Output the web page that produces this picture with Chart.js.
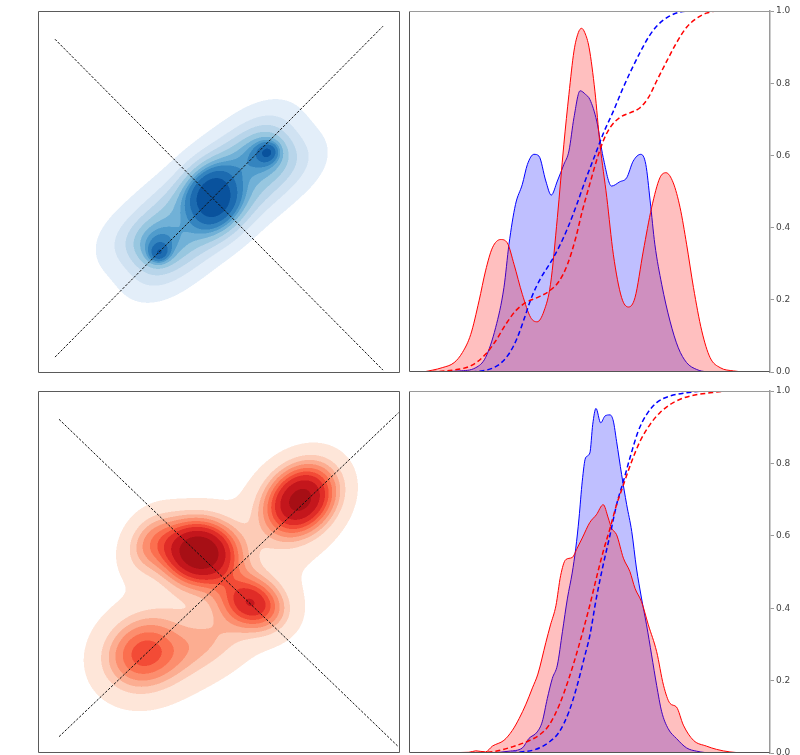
<!DOCTYPE html>
<html>
<head>
<meta charset="utf-8">
<script src="https://cdn.jsdelivr.net/npm/chart.js@4.4.1/dist/chart.umd.min.js"></script>
<style>
  html, body { margin: 0; padding: 0; background: #fff; }
  body { width: 800px; height: 755px; position: relative; overflow: hidden; }
  canvas { position: absolute; }
</style>
</head>
<body>
<canvas id="kdeTop" width="362" height="362" style="left:38px;top:11px"></canvas>
<canvas id="distTop" width="391" height="380" style="left:409px;top:0px"></canvas>
<canvas id="kdeBot" width="362" height="362" style="left:38px;top:391px"></canvas>
<canvas id="distBot" width="391" height="381" style="left:409px;top:380px"></canvas>
<script>
// ---------- bivariate density components (data units, 0..100 square) ----------
// blue field: two parallel rows along the diagonal, a central peak and two lobes
const blueCx     = [26.5, 35.5, 44.5, 53.5, 62.5, 33.5, 42.5, 51.5, 60.5, 69.5, 48.5, 33, 62.5, 33.5, 63.5];
const blueCy     = [37.2, 44.7, 51.7, 59.2, 66.2, 28.8, 36.3, 43.3, 50.8, 57.8, 48.5, 35.5, 60.5, 33, 61];
const blueMajor  = [7.5, 7, 7, 7, 7.5, 7.5, 7, 7, 7, 7.5, 6.2, 5, 5, 2, 2];
const blueMinor  = [5.3, 5.3, 5.3, 5.3, 5.3, 5.3, 5.3, 5.3, 5.3, 5.3, 5.2, 4, 4, 1.8, 1.8];
const blueAngle  = [35, 40, 40, 40, 35, 35, 40, 40, 40, 35, 75, 30, 30, 30, 30];
const blueWeight = [0.07, 0.07, 0.07, 0.07, 0.07, 0.07, 0.07, 0.07, 0.07, 0.07, 0.17, 0.045, 0.045, 0.008, 0.008];
// red field: four clusters plus a diffuse background
const redCx     = [44.5, 72.5, 59, 29, 50, 31, 46];
const redCy     = [55.5, 70, 41.5, 27.5, 44, 58, 30];
const redMajor  = [6.5, 7, 6, 7.5, 22, 6, 9];
const redMinor  = [5.5, 5.5, 4.5, 6.5, 13, 4.5, 5];
const redAngle  = [-10, 45, -25, 30, 45, 60, 30];
const redWeight = [0.25, 0.23, 0.1, 0.14, 0.18, 0.04, 0.04];

// iso-proportion levels and fill colours of the filled contours
const isoProps = [0.05, 0.1556, 0.2611, 0.3667, 0.4722, 0.5778, 0.6833, 0.7889, 0.8944, 1.0];
const bluesFill = ['#e3eef9', '#d0e2f2', '#b8d5ea', '#98c7e0', '#71b1d7', '#509ccc', '#3484bf', '#1c6bb0', '#09529d'];
const redsFill  = ['#fee6d9', '#fdcbb6', '#fcad91', '#fc8e6e', '#fb6f4f', '#f34b36', '#e02c27', '#c4161c', '#a70f15'];

// dashed diagonals [x0, y0, x1, y1]
const topDiagA = [4.7, 4.4, 95.3, 95.8];
const topDiagB = [4.7, 92.2, 95.3, 0.8];
const botDiagA = [5.8, 4.5, 99.6, 94.0];
const botDiagB = [5.8, 92.2, 99.6, 1.7];

// ---------- top-right: densities and cumulative curves ----------
const topBlueDensX = [4, 13.9, 18.5, 21.2, 24.0, 26.3, 27.7, 29.5, 31.4, 32.8, 34.6, 36.0, 37.9, 39.4, 41.1, 42.9, 44.3, 45.7, 47.4, 48.9, 50.1, 52.0, 53.8, 56.1, 58.4, 60.3, 62.1, 64.2, 65.6, 66.8, 68.1, 70.0, 72.3, 74.6, 76.9, 79.7, 82.4, 96];
const topBlueDensY = [0, 0.003, 0.012, 0.04, 0.123, 0.234, 0.354, 0.464, 0.52, 0.575, 0.603, 0.598, 0.529, 0.49, 0.529, 0.575, 0.612, 0.705, 0.779, 0.769, 0.755, 0.695, 0.594, 0.515, 0.527, 0.538, 0.584, 0.603, 0.575, 0.474, 0.354, 0.243, 0.141, 0.067, 0.026, 0.007, 0.001, 0];
const topRedDensX = [4, 9.2, 12.5, 14.8, 17.1, 19.4, 21.2, 23.1, 25.4, 27.2, 29.1, 31.4, 33.7, 35.5, 37.4, 39.2, 41.1, 42.9, 44.3, 45.7, 46.9, 47.8, 48.7, 49.9, 51.5, 52.9, 54.8, 56.6, 58.9, 60.8, 62.6, 64.9, 67.2, 69.5, 71.2, 73.2, 75.1, 76.9, 78.8, 81.1, 83.4, 86.2, 89.9, 93.6, 96];
const topRedDensY = [0, 0.012, 0.026, 0.054, 0.104, 0.197, 0.28, 0.344, 0.367, 0.358, 0.298, 0.215, 0.151, 0.139, 0.169, 0.243, 0.428, 0.631, 0.769, 0.889, 0.94, 0.952, 0.94, 0.898, 0.778, 0.631, 0.483, 0.326, 0.206, 0.18, 0.206, 0.335, 0.455, 0.538, 0.552, 0.524, 0.455, 0.354, 0.234, 0.114, 0.04, 0.012, 0.003, 0, 0];
const topBlueCdfX = [4, 14, 20, 23, 25.5, 28, 30, 32, 34, 36.5, 39, 41.5, 44, 46.5, 49, 51.5, 54, 56.5, 59, 61.5, 64, 66.5, 69, 72, 75, 78, 96];
const topBlueCdfY = [0, 0, 0.003, 0.01, 0.025, 0.055, 0.095, 0.15, 0.208, 0.26, 0.3, 0.345, 0.4, 0.465, 0.535, 0.6, 0.665, 0.72, 0.78, 0.835, 0.885, 0.93, 0.962, 0.985, 0.997, 1, 1];
const topRedCdfX = [4, 12.0, 17.5, 21.2, 24.0, 26.8, 29.5, 32.3, 35.5, 38.8, 41.6, 43.9, 46.2, 48.0, 50.0, 51.9, 53.8, 55.7, 58.4, 61.2, 64.0, 66.3, 68.6, 71.4, 74.1, 76.9, 79.7, 82.4, 85.2, 96];
const topRedCdfY = [0, 0.005, 0.019, 0.049, 0.086, 0.132, 0.169, 0.192, 0.206, 0.224, 0.252, 0.298, 0.372, 0.446, 0.518, 0.584, 0.64, 0.677, 0.705, 0.718, 0.732, 0.76, 0.806, 0.861, 0.912, 0.955, 0.98, 0.994, 1, 1];

// ---------- bottom-right: densities and cumulative curves ----------
const botBlueDensX = [4, 13.9, 23.1, 27.7, 31.4, 33.2, 35.5, 36.9, 38.3, 39.7, 41.1, 42.5, 43.9, 45.2, 46.2, 47.1, 48.0, 48.9, 50.1, 50.9, 51.8, 53.1, 54.3, 55.7, 56.6, 57.5, 58.9, 60.3, 61.7, 63.0, 64.4, 65.8, 67.2, 68.6, 70.0, 71.8, 74.1, 76.9, 79.7, 84.3, 96];
const botBlueDensY = [0, 0, 0.001, 0.005, 0.014, 0.04, 0.058, 0.086, 0.15, 0.206, 0.243, 0.335, 0.428, 0.497, 0.566, 0.649, 0.751, 0.815, 0.829, 0.908, 0.952, 0.912, 0.931, 0.934, 0.917, 0.861, 0.769, 0.686, 0.612, 0.511, 0.428, 0.354, 0.271, 0.187, 0.114, 0.067, 0.04, 0.014, 0.005, 0, 0];
const botRedDensX = [4, 16.6, 18.5, 21.2, 23.1, 26.3, 28.6, 30.5, 32.4, 34.2, 35.7, 37.9, 39.2, 40.7, 42.0, 43.4, 45.2, 46.6, 48.0, 50.1, 51.9, 53.8, 55.2, 56.1, 57.5, 59.4, 61.2, 62.6, 64.4, 66.3, 68.6, 70.5, 72.3, 74.1, 76.0, 78.8, 82.4, 85.2, 88.9, 93.6, 96];
const botRedDensY = [0, 0.002, 0.006, 0.003, 0.019, 0.035, 0.062, 0.095, 0.135, 0.18, 0.218, 0.305, 0.354, 0.407, 0.49, 0.534, 0.54, 0.566, 0.594, 0.637, 0.658, 0.686, 0.649, 0.621, 0.603, 0.538, 0.501, 0.455, 0.418, 0.354, 0.28, 0.187, 0.137, 0.127, 0.077, 0.035, 0.019, 0.01, 0.003, 0, 0];
const botBlueCdfX = [4, 13.9, 23.1, 30.5, 35.1, 38.8, 41.6, 44.3, 46.6, 48.5, 50.1, 51.9, 53.8, 55.7, 57.5, 59.4, 61.2, 63.5, 65.8, 68.6, 72.3, 76.9, 82.4, 96];
const botBlueCdfY = [0, 0, 0, 0.003, 0.01, 0.03, 0.058, 0.114, 0.187, 0.261, 0.325, 0.428, 0.52, 0.603, 0.686, 0.751, 0.815, 0.889, 0.935, 0.968, 0.986, 0.995, 1, 1];
const botRedCdfX = [4, 18.5, 24.0, 28.6, 32.3, 36.0, 38.8, 41.6, 44.3, 47.1, 50.1, 51.9, 53.8, 55.7, 57.5, 59.4, 61.7, 64.0, 66.8, 69.5, 73.2, 77.8, 83.4, 88.9, 96];
const botRedCdfY = [0, 0.001, 0.005, 0.017, 0.03, 0.049, 0.077, 0.132, 0.206, 0.298, 0.409, 0.483, 0.557, 0.621, 0.686, 0.741, 0.806, 0.861, 0.908, 0.94, 0.968, 0.986, 0.995, 1, 1];

// tick values on the right-hand axis
const cdfTicks = [0.0, 0.2, 0.4, 0.6, 0.8, 1.0];

// ---------- helpers ----------
const pts = (xs, ys) => xs.map((x, i) => ({ x, y: ys[i] }));
const seg = s => [{ x: s[0], y: s[1] }, { x: s[2], y: s[3] }];
const hexRgb = h => [1, 3, 5].map(i => parseInt(h.slice(i, i + 2), 16));

// filled-contour renderer: evaluates the mixture at every (super-sampled) pixel
// through the chart scales, finds the iso-proportion thresholds and paints bands
const kdeFill = {
  id: 'kdeFill',
  beforeDatasetsDraw(chart, args, o) {
    const { ctx, chartArea: a, scales } = chart;
    const sx = scales.x, sy = scales.y;
    const ss = 2;
    const w = Math.round(a.right - a.left), h = Math.round(a.bottom - a.top);
    const W = w * ss, H = h * ss;
    const comps = o.cx.map((cx, k) => {
      const t = o.angle[k] * Math.PI / 180;
      return { cx, cy: o.cy[k], c: Math.cos(t), s: Math.sin(t),
               ia: 1 / (o.major[k] * o.major[k]), ib: 1 / (o.minor[k] * o.minor[k]),
               w: o.weight[k] / (2 * Math.PI * o.major[k] * o.minor[k]) };
    });
    const vx = new Float64Array(W), vy = new Float64Array(H);
    for (let i = 0; i < W; i++) vx[i] = sx.getValueForPixel(a.left + (i + 0.5) / ss);
    for (let j = 0; j < H; j++) vy[j] = sy.getValueForPixel(a.top + (j + 0.5) / ss);
    const dens = new Float64Array(W * H);
    let total = 0;
    for (let j = 0; j < H; j++) {
      for (let i = 0; i < W; i++) {
        let d = 0;
        for (const g of comps) {
          const dx = vx[i] - g.cx, dy = vy[j] - g.cy;
          const u = dx * g.c + dy * g.s, v = -dx * g.s + dy * g.c;
          d += g.w * Math.exp(-0.5 * (u * u * g.ia + v * v * g.ib));
        }
        dens[j * W + i] = d;
        total += d;
      }
    }
    const sorted = Float64Array.from(dens).sort();
    const N = sorted.length;
    const cum = new Float64Array(N);
    let c = 0;
    for (let i = 0; i < N; i++) { c += sorted[N - 1 - i]; cum[i] = c / total; }
    const levels = o.props.map(p => {
      const t = 1 - p;
      let lo = 0, hi = N;
      while (lo < hi) { const m = (lo + hi) >> 1; if (cum[m] < t) lo = m + 1; else hi = m; }
      return sorted[N - 1 - Math.min(lo, N - 1)];
    });
    const cols = o.colors.map(hexRgb);
    const nb = cols.length;
    const img = ctx.createImageData(w, h);
    for (let y = 0; y < h; y++) {
      for (let x = 0; x < w; x++) {
        let r = 0, gg = 0, b = 0;
        for (let q = 0; q < ss; q++) for (let p = 0; p < ss; p++) {
          const d = dens[(y * ss + q) * W + (x * ss + p)];
          if (d < levels[0]) { r += 255; gg += 255; b += 255; continue; }
          let k = 0;
          while (k + 1 < levels.length && d >= levels[k + 1]) k++;
          if (k > nb - 1) k = nb - 1;
          r += cols[k][0]; gg += cols[k][1]; b += cols[k][2];
        }
        const n = ss * ss, idx = (y * w + x) * 4;
        img.data[idx] = r / n; img.data[idx + 1] = gg / n; img.data[idx + 2] = b / n; img.data[idx + 3] = 255;
      }
    }
    const off = document.createElement('canvas');
    off.width = w; off.height = h;
    off.getContext('2d').putImageData(img, 0, 0);
    ctx.drawImage(off, a.left, a.top);
  }
};

// frame around a panel
const frame = {
  id: 'frame',
  afterDraw(chart, args, o) {
    const { ctx, chartArea: a } = chart;
    ctx.save();
    ctx.lineWidth = 1;
    const L = a.left + 0.5, R = a.right - 0.5, T = a.top + 0.5, B = a.bottom - 0.5;
    const side = (x0, y0, x1, y1, col) => { ctx.strokeStyle = col; ctx.beginPath(); ctx.moveTo(x0, y0); ctx.lineTo(x1, y1); ctx.stroke(); };
    side(L, T, L, B, o.left);
    side(L, B, R, B, o.bottom);
    side(L, T, R, T, o.top);
    if (o.right) side(R, T, R, B, o.right);
    ctx.restore();
  }
};

function kdeChart(id, diagA, diagB, comp, colors) {
  const diag = d => ({ data: seg(d), showLine: true, borderColor: '#111111', borderWidth: 1,
                       borderDash: [2.5, 1.5], pointRadius: 0, fill: false });
  return new Chart(document.getElementById(id), {
    type: 'scatter',
    data: { datasets: [diag(diagA), diag(diagB)] },
    options: {
      responsive: false, animation: false, devicePixelRatio: 1,
      layout: { padding: 0 },
      plugins: { legend: { display: false }, tooltip: { enabled: false },
                 kdeFill: { ...comp, props: isoProps, colors },
                 frame: { left: '#5a5a5a', right: '#5a5a5a', top: '#5a5a5a', bottom: '#5a5a5a' } },
      scales: { x: { type: 'linear', min: 0, max: 100, display: false },
                y: { type: 'linear', min: 0, max: 100, display: false } }
    },
    plugins: [kdeFill, frame]
  });
}

function distChart(id, sets) {
  const dens = (x, y, col, fillCol) => ({ data: pts(x, y), borderColor: col, backgroundColor: fillCol,
    borderWidth: 1, fill: 'origin', pointRadius: 0, cubicInterpolationMode: 'monotone' });
  const cdf = (x, y, col) => ({ data: pts(x, y), borderColor: col, borderWidth: 1.5, borderDash: [5, 3],
    fill: false, pointRadius: 0, cubicInterpolationMode: 'monotone' });
  return new Chart(document.getElementById(id), {
    type: 'line',
    data: { datasets: [
      // first listed is painted last
      cdf(sets.redCdfX, sets.redCdfY, '#ff0000'),
      cdf(sets.blueCdfX, sets.blueCdfY, '#0000ff'),
      dens(sets.redX, sets.redY, '#ff0000', 'rgba(255,0,0,0.25)'),
      dens(sets.blueX, sets.blueY, '#0000ff', 'rgba(0,0,255,0.25)')
    ] },
    options: {
      responsive: false, animation: false, devicePixelRatio: 1,
      layout: { padding: { top: 11, bottom: 8, left: 0, right: 0 } },
      plugins: { legend: { display: false }, tooltip: { enabled: false },
                 frame: { left: '#555555', bottom: '#555555', top: '#9a9a9a' } },
      scales: {
        x: { type: 'linear', min: 0, max: 100, display: false },
        y: { type: 'linear', position: 'right', min: 0, max: 1,
             afterBuildTicks: s => { s.ticks = cdfTicks.map(v => ({ value: v })); },
             ticks: { callback: v => v.toFixed(1), color: '#444', padding: 2,
                      font: { family: 'DejaVu Sans', size: 9 } },
             grid: { drawOnChartArea: false, drawTicks: true, tickLength: 4, tickColor: '#9a9a9a', tickWidth: 1 },
             border: { display: true, color: '#9a9a9a', width: 1.5 },
             afterFit: s => { s.width = 30; } }
      }
    },
    plugins: [frame]
  });
}

kdeChart('kdeTop', topDiagA, topDiagB,
  { cx: blueCx, cy: blueCy, major: blueMajor, minor: blueMinor, angle: blueAngle, weight: blueWeight }, bluesFill);
kdeChart('kdeBot', botDiagA, botDiagB,
  { cx: redCx, cy: redCy, major: redMajor, minor: redMinor, angle: redAngle, weight: redWeight }, redsFill);

distChart('distTop', { blueX: topBlueDensX, blueY: topBlueDensY, redX: topRedDensX, redY: topRedDensY,
  blueCdfX: topBlueCdfX, blueCdfY: topBlueCdfY, redCdfX: topRedCdfX, redCdfY: topRedCdfY });
distChart('distBot', { blueX: botBlueDensX, blueY: botBlueDensY, redX: botRedDensX, redY: botRedDensY,
  blueCdfX: botBlueCdfX, blueCdfY: botBlueCdfY, redCdfX: botRedCdfX, redCdfY: botRedCdfY });
</script>
</body>
</html>
